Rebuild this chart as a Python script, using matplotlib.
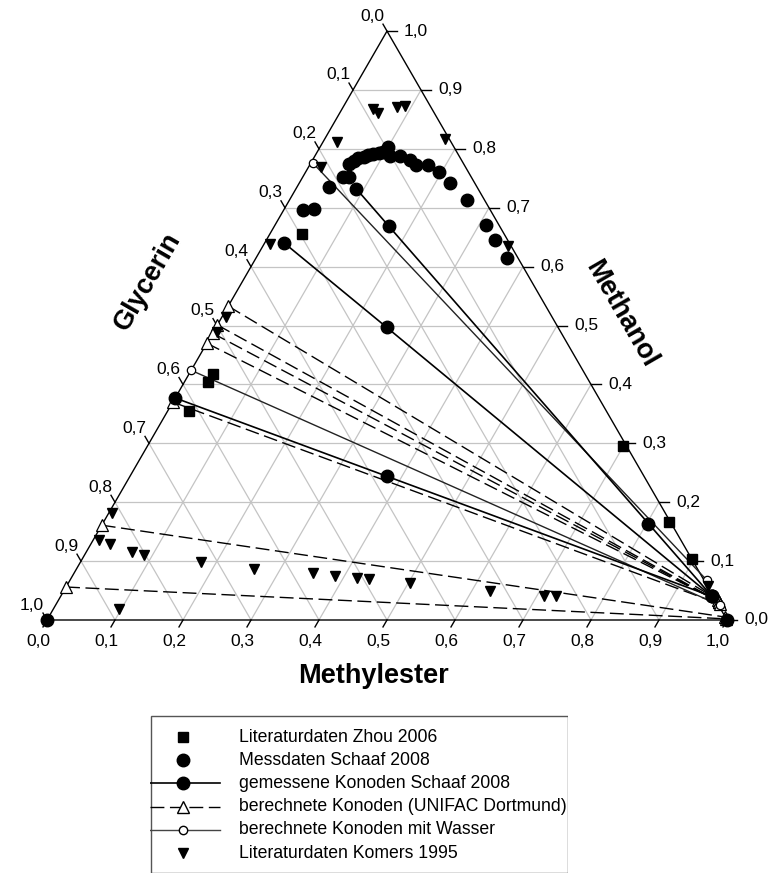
import numpy as np
import matplotlib.pyplot as plt
from matplotlib.patches import Rectangle

plt.rcParams['font.family'] = ['Liberation Sans', 'DejaVu Sans']

# Mass fractions: Methylester (bottom axis) and Methanol (right axis); Glycerin = 1 - both
zhou_ester = [0.047, 0.035, 0.035, 0.031, 0.700, 0.832, 0.896]
zhou_methanol = [0.655, 0.418, 0.404, 0.355, 0.295, 0.166, 0.104]

schaaf_ester = [0.100, 0.110, 0.125, 0.144, 0.157, 0.174, 0.196, 0.221, 0.261, 0.310,
                0.336, 0.369, 0.057, 0.062, 0.066, 0.072, 0.078, 0.084, 0.091, 0.097,
                0.059, 0.067, 0.047, 0.029, 0.043, 0.802, 0.0, 1.0]
schaaf_methanol = [0.803, 0.788, 0.788, 0.781, 0.772, 0.772, 0.760, 0.742, 0.713, 0.671,
                   0.645, 0.614, 0.774, 0.780, 0.784, 0.787, 0.789, 0.791, 0.793, 0.795,
                   0.752, 0.753, 0.736, 0.696, 0.698, 0.163, 0.0, 0.0]

# measured tie lines: glycerin-rich phase, feed, ester-rich phase
tie_ester = [[0.089, 0.168, 0.958], [0.029, 0.251, 0.958], [0.0, 0.378, 0.958]]
tie_methanol = [[0.732, 0.669, 0.040], [0.640, 0.497, 0.040], [0.377, 0.244, 0.040]]

# UNIFAC Dortmund tie lines
unifac_ester = [[0.0, 0.970], [0.0, 0.973], [0.0, 0.973], [0.0, 0.973],
                [0.0, 0.976], [0.0, 0.995], [0.0, 0.997]]
unifac_methanol = [[0.533, 0.034], [0.501, 0.031], [0.487, 0.031], [0.470, 0.031],
                   [0.370, 0.027], [0.161, 0.005], [0.056, 0.002]]

# tie lines calculated with water
water_ester = [[0.003, 0.936], [0.0, 0.977]]
water_methanol = [[0.776, 0.068], [0.424, 0.025]]

komers_ester = [0.046, 0.056, 0.079, 0.090, 0.021, 0.177, 0.018, 0.009, 0.360, 0.005,
                0.006, 0.005, 0.008, 0.028, 0.067, 0.087, 0.177, 0.261, 0.352, 0.386,
                0.421, 0.439, 0.503, 0.627, 0.711, 0.729, 0.097, 0.944]
komers_methanol = [0.868, 0.861, 0.871, 0.873, 0.812, 0.817, 0.769, 0.638, 0.635, 0.515,
                   0.489, 0.181, 0.136, 0.129, 0.116, 0.110, 0.099, 0.086, 0.079, 0.075,
                   0.071, 0.069, 0.062, 0.050, 0.041, 0.040, 0.018, 0.057]

ticks = np.round(np.arange(0, 1.01, 0.1), 1)
tick_labels = [f"{t:.1f}".replace('.', ',') for t in ticks]

H = np.sqrt(3) / 2
PX = 1 / 680.0  # one pixel in data units


def to_xy(e, m):
    e = np.asarray(e, dtype=float)
    m = np.asarray(m, dtype=float)
    return e + m / 2, m * H


fig = plt.figure(figsize=(7.73, 8.75), dpi=100)
ax = fig.add_axes([0, 0, 1, 1])
ax.set_xlim(-47 * PX, 726 * PX)
ax.set_ylim(-255 * PX, 620 * PX)
ax.axis('off')

# grid
grid_kw = dict(color='#c4c4c4', lw=0.9, zorder=1)
for f in ticks[1:-1]:
    ax.plot(*to_xy([0, 1 - f], [f, f]), **grid_kw)
    ax.plot(*to_xy([f, f], [0, 1 - f]), **grid_kw)
    ax.plot(*to_xy([1 - f, 0], [0, 1 - f]), **grid_kw)

# frame
ax.plot(*to_xy([0, 1, 0, 0], [0, 0, 1, 0]), color='black', lw=1.0, zorder=2)

# ticks and tick labels
L = 8 * PX
for t, lab in zip(ticks, tick_labels):
    # Methylester (bottom)
    x, y = to_xy(t, 0)
    ax.plot([x, x - 0.5 * L], [y, y - H * L], color='black', lw=1.0)
    ax.text(x - 9 * PX, y - 21 * PX, lab, ha='center', va='center', fontsize=12.5)
    # Methanol (right)
    x, y = to_xy(1 - t, t)
    ax.plot([x, x + L * 1.2], [y, y], color='black', lw=1.0)
    ax.text(x + 17 * PX, y, lab, ha='left', va='center', fontsize=12.5)
    # Glycerin (left)
    x, y = to_xy(0, 1 - t)
    ax.plot([x, x - 0.5 * L], [y, y + H * L], color='black', lw=1.0)
    ax.text(x - 15 * PX, y + 15 * PX, lab, ha='center', va='center', fontsize=12.5)

ax.text(326 * PX, -56 * PX, 'Methylester', ha='center', va='center',
        fontsize=19.5, fontweight='bold')
ax.text(101 * PX, 338 * PX, 'Glycerin', ha='center', va='center', rotation=60,
        fontsize=19.5, fontweight='bold')
ax.text(574 * PX, 306 * PX, 'Methanol', ha='center', va='center', rotation=-60,
        fontsize=19.5, fontweight='bold')

# tie lines
for e, m in zip(unifac_ester, unifac_methanol):
    ax.plot(*to_xy(e, m), color='black', lw=1.0, ls=(0, (10, 4)), marker='^', ms=8,
            mfc='white', mec='black', mew=0.9, zorder=3)
for e, m in zip(water_ester, water_methanol):
    ax.plot(*to_xy(e, m), color='#222222', lw=1.0, marker='o', ms=6,
            mfc='white', mec='black', mew=0.9, zorder=3)
for e, m in zip(tie_ester, tie_methanol):
    ax.plot(*to_xy(e, m), color='black', lw=1.2, marker='o', ms=9,
            mfc='black', mec='black', zorder=4)

# points
ax.plot(*to_xy(schaaf_ester, schaaf_methanol), 'o', color='black', ms=9, zorder=4)
ax.plot(*to_xy(zhou_ester, zhou_methanol), 's', color='black', ms=7.5, zorder=5)
ax.plot(*to_xy(komers_ester, komers_methanol), 'v', color='black', ms=6.5, zorder=5)

# legend box, drawn in pixel units
lx0, ly0, lw_, lh = 150, 715, 418, 158
lax = fig.add_axes([lx0 / 773, 1 - (ly0 + lh) / 875, lw_ / 773, lh / 875])
lax.set_xlim(0, lw_)
lax.set_ylim(lh, 0)
lax.axis('off')
lax.add_patch(Rectangle((0.5, 0.5), lw_ - 1, lh - 1, fill=False, ec='#555555', lw=1.0))

legend_rows = [
    ('Literaturdaten Zhou 2006', dict(ls='none', marker='s', ms=7.5, mfc='black', mec='black')),
    ('Messdaten Schaaf 2008', dict(ls='none', marker='o', ms=9, mfc='black', mec='black')),
    ('gemessene Konoden Schaaf 2008', dict(ls='-', color='black', lw=1.2, marker='o', ms=9,
                                          mfc='black', mec='black')),
    ('berechnete Konoden (UNIFAC Dortmund)', dict(ls=(0, (10, 4)), color='black', lw=1.0,
                                                 marker='^', ms=8, mfc='white', mec='black')),
    ('berechnete Konoden mit Wasser', dict(ls='-', color='#444444', lw=1.0, marker='o', ms=6,
                                          mfc='white', mec='black')),
    ('Literaturdaten Komers 1995', dict(ls='none', marker='v', ms=6.5, mfc='black', mec='black')),
]
for i, (label, style) in enumerate(legend_rows):
    yy = 22 + 23.2 * i
    lax.plot([0, 70], [yy, yy], markevery=[], **style)
    lax.plot([33], [yy], **{k: v for k, v in style.items() if k not in ('ls', 'lw')}, ls='none')
    lax.text(89, yy, label, ha='left', va='center', fontsize=12.7)

fig.savefig('out.png', dpi=100)
